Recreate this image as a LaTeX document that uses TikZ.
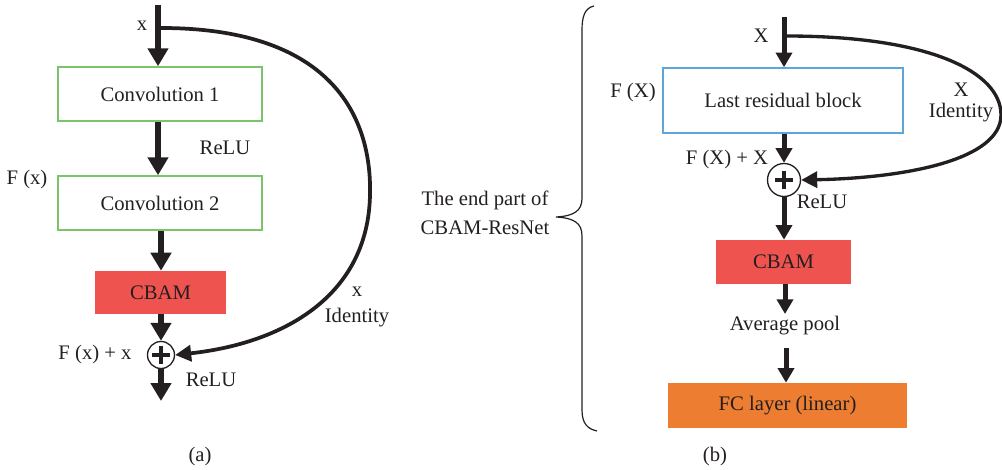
\documentclass[tikz,border=0pt]{standalone}
\usepackage{fontspec}
\setmainfont{Liberation Serif}
\usetikzlibrary{arrows.meta}
\definecolor{ink}{HTML}{231F20}
\definecolor{boxgreen}{HTML}{7CC46C}
\definecolor{boxblue}{HTML}{5DA5DA}
\definecolor{cbamred}{HTML}{EF5350}
\definecolor{fcorange}{HTML}{ED7D31}
\tikzset{
  lbl/.style={text=ink, font=\fontsize{15.5}{18}\selectfont, inner sep=0pt},
  box/.style={lbl, draw, line width=1.1pt, minimum width=153pt, minimum height=40.5pt},
  bigarrow/.style={draw=ink, line width=4.5pt, -{Triangle[length=13.5pt,width=15pt]}},
  midarrow/.style={draw=ink, line width=3.75pt, -{Triangle[length=11pt,width=12pt]}},
  curvearrow/.style={draw=ink, line width=2.8pt, -{Triangle[length=12pt,width=12pt]}},
  plusnode/.style={circle, draw=ink, line width=1pt, fill=white, inner sep=0pt,
    path picture={\draw[ink, line width=3.2pt] (path picture bounding box.center) ++(-6.5pt,0) -- ++(13pt,0)
      (path picture bounding box.center) ++(0,-6.5pt) -- ++(0,13pt);}},
}
\begin{document}
\begin{tikzpicture}[x=0.75pt,y=-0.75pt]
\useasboundingbox (0,0) rectangle (1002,470);
% ---------- (a) ----------
\coordinate (atop) at (158,5);
\coordinate (asplit) at (161,28);
\node[box, draw=boxgreen] (conv1) at (160,94) {Convolution 1};
\node[box, draw=boxgreen] (conv2) at (160,203) {Convolution 2};
\node[lbl, fill=cbamred, minimum width=98.25pt, minimum height=32.25pt] (cbamA) at (160.5,292.5) {CBAM};
\node[plusnode, minimum size=20.25pt] (addA) at (161,355) {};
\coordinate (aout) at (161,401);

\draw[bigarrow] (atop) -- (atop |- conv1.north);
\draw[bigarrow] (conv1.south -| atop) -- (atop |- conv2.north);
\draw[bigarrow] (conv2.south -| addA) -- (addA |- cbamA.north);
\draw[bigarrow] (cbamA.south -| addA) -- (addA.north);
\draw[bigarrow] (addA.south) -- (aout);
\draw[curvearrow] (asplit) .. controls (330,28) and (372,115) .. (370,195)
   .. controls (368,295) and (285,343) .. (addA.east);

\node[lbl] (lx) at (142,26) {x};
\node[lbl] (lrelu1) at (225,148) {ReLU};
\node[lbl] (lfx) at (27,180) {F (x)};
\node[lbl] (lfxx) at (95,355) {F (x) + x};
\node[lbl] (lrelu2) at (211,380) {ReLU};
\node[lbl] (lidx) at (357,292) {x};
\node[lbl] (lid) at (357,318) {Identity};
\node[lbl] (la) at (200,457) {(a)};

% ---------- brace ----------
\draw[ink, line width=0.9pt] (594,6) .. controls (585,8) and (582,16) .. (582,30) -- (582,198)
  .. controls (582,211) and (574,216) .. (556,217)
  .. controls (574,218) and (582,223) .. (582,236) -- (582,410)
  .. controls (582,424) and (588,429) .. (597,431);
\node[lbl] (tend1) at (485,200) {The end part of};
\node[lbl] (tend2) at (485,228) {CBAM-ResNet};

% ---------- (b) ----------
\coordinate (btop) at (784,17);
\coordinate (bsplit) at (786,36);
\node[box, draw=boxblue, minimum width=180pt, minimum height=48.75pt] (last) at (783,100.5) {Last residual block};
\node[plusnode, minimum size=24.75pt] (addB) at (784,180) {};
\node[lbl, fill=cbamred, minimum width=101.25pt, minimum height=33pt] (cbamB) at (783.5,262) {CBAM};
\node[lbl] (avg) at (785,326) {Average pool};
\coordinate (avgin) at (785,314);
\coordinate (avgout) at (786,348);
\node[lbl, fill=fcorange, minimum width=179.25pt, minimum height=33.75pt] (fc) at (787.5,405.5) {FC layer (linear)};

\draw[midarrow] (btop) -- (btop |- last.north);
\draw[midarrow] (last.south -| addB) -- (addB.north);
\draw[midarrow] (addB.south) -- (addB |- cbamB.north);
\draw[midarrow] (cbamB.south -| avgin) -- (avgin);
\draw[midarrow] (avgout) -- (avgout |- fc.north);
\draw[curvearrow, line width=2.5pt] (bsplit) .. controls (930,36) and (1001,72) .. (1001,115)
   .. controls (1001,160) and (905,178) .. (addB.east);

\node[lbl] (rx) at (761,36) {X};
\node[lbl] (rfx) at (633,93) {F (X)};
\node[lbl] (ridx) at (961,90) {X};
\node[lbl] (rid) at (961,113) {Identity};
\node[lbl] (rfxx) at (727,160) {F (X) + X};
\node[lbl] (rrelu) at (822,202) {ReLU};
\node[lbl] (lb) at (715,457) {(b)};
\end{tikzpicture}
\end{document}
